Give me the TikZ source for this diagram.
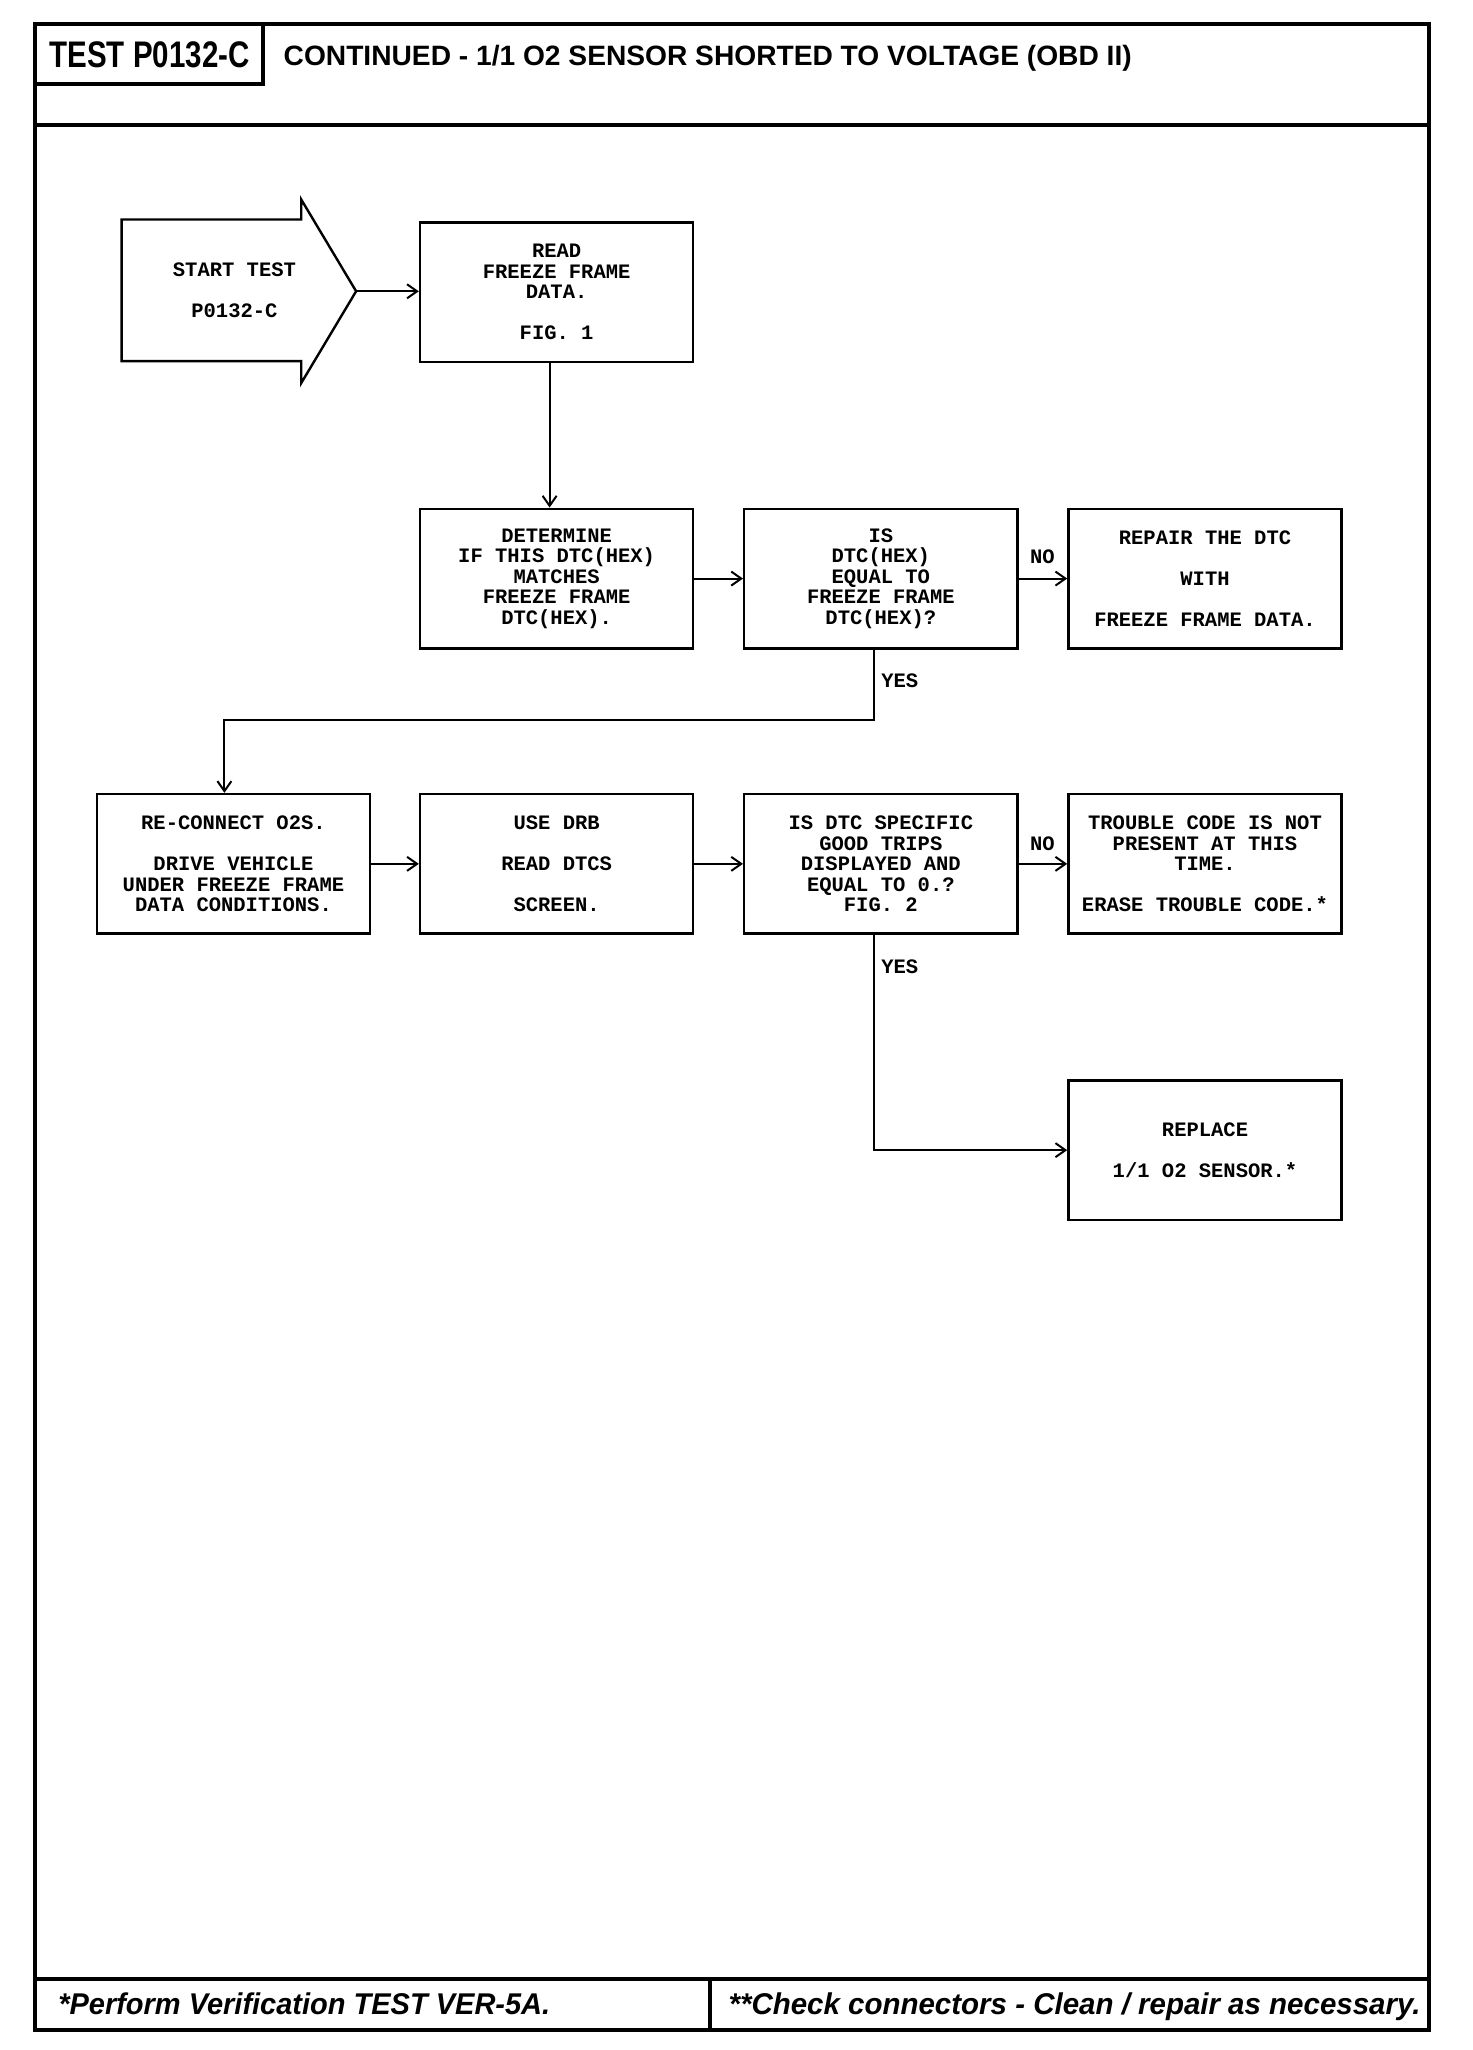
\documentclass[tikz,border=0pt]{standalone}
\usepackage{fontspec}
\setmainfont{Liberation Sans}
\newfontfamily\monof{Liberation Mono}
\usetikzlibrary{arrows.meta,calc}
\begin{document}
\begin{tikzpicture}[x=0.49875pt,y=-0.49875pt,
  frame/.style={draw,line width=2pt},
  stepbox/.style={draw,line width=1.2pt,minimum width=136.6pt,minimum height=69.8pt,inner sep=0pt,
     align=center,font=\monof\bfseries\fontsize{10.25}{10.25}\selectfont},
  lbl/.style={inner sep=0pt,font=\monof\bfseries\fontsize{10.25}{10.25}\selectfont},
  arr/.style={line width=1pt,-{Straight Barb[length=5pt,width=7pt,line width=1pt]}},
  conn/.style={line width=1pt}]
\useasboundingbox (0,0) rectangle (1475.7,2055.1);
% outer frame
\draw[frame] (35,24) rectangle (1433,2035);
\draw[frame] (35,125) -- (1433,125);
\draw[frame] (35,24) rectangle (264,84);
\draw[frame] (35,1984) -- (1433,1984);
\draw[frame] (712,1984) -- (712,2035);
% header texts
\node[inner sep=0pt] (ttlA) at (150,55) {\resizebox{100pt}{\height}{\fontsize{18.5}{18.5}\selectfont\bfseries TEST P0132-C}};
\node[inner sep=0pt,anchor=west] (ttlB) at (284,58) {\resizebox{424pt}{\height}{\fontsize{14}{14}\selectfont\bfseries CONTINUED - 1/1 O2 SENSOR SHORTED TO VOLTAGE (OBD II)}};
% footer texts
\node[inner sep=0pt,anchor=base west] (ftA) at (58,2019) {\resizebox{246pt}{\height}{\fontsize{15}{15}\selectfont\bfseries\itshape *Perform Verification TEST VER-5A.}};
\node[inner sep=0pt,anchor=base west] (ftB) at (730,2019) {\resizebox{346pt}{\height}{\fontsize{15}{15}\selectfont\bfseries\itshape **Check connectors - Clean / repair as necessary.}};
% start arrow shape
\draw[line width=1.2pt] (122,220) -- (302,220) -- (302,200) -- (357,292) -- (302,384) -- (302,362) -- (122,362) -- cycle;
\node[lbl,align=center] (start) at (235,291) {START TEST\\[10.25pt]P0132-C};
\coordinate (tip) at (357,292);
% boxes
\node[stepbox] (read) at (558,293) {READ\\FREEZE FRAME\\DATA.\\[10.25pt]FIG. 1};
\node[stepbox] (det) at (558,580) {DETERMINE\\IF THIS DTC(HEX)\\MATCHES\\FREEZE FRAME\\DTC(HEX).};
\node[stepbox] (ishex) at (883,580) {IS\\DTC(HEX)\\EQUAL TO\\FREEZE FRAME\\DTC(HEX)?};
\node[stepbox] (repair) at (1208,580) {REPAIR THE DTC\\[10.25pt]WITH\\[10.25pt]FREEZE FRAME DATA.};
\node[stepbox] (recon) at (234,866) {RE-CONNECT O2S.\\[10.25pt]DRIVE VEHICLE\\UNDER FREEZE FRAME\\DATA CONDITIONS.};
\node[stepbox] (usedrb) at (558,866) {USE DRB\\[10.25pt]READ DTCS\\[10.25pt]SCREEN.};
\node[stepbox] (isspec) at (883,866) {IS DTC SPECIFIC\\GOOD TRIPS\\DISPLAYED AND\\EQUAL TO 0.?\\FIG. 2};
\node[stepbox] (trouble) at (1208,866) {TROUBLE CODE IS NOT\\PRESENT AT THIS\\TIME.\\[10.25pt]ERASE TROUBLE CODE.*};
\node[stepbox] (replace) at (1208,1153) {REPLACE\\[10.25pt]1/1 O2 SENSOR.*};
% connectors
\draw[arr] (tip) -- (tip -| read.west);
\draw[arr] ([xshift=-3.5pt]read.south) -- ([xshift=-3.5pt]det.north);
\draw[arr] (det.east) -- (ishex.west);
\draw[arr] (ishex.east) -- (repair.west);
\draw[arr] ([xshift=-3.5pt]ishex.south) -- ++(0,71) -| ([xshift=-4.5pt]recon.north);
\draw[arr] (recon.east) -- (usedrb.west);
\draw[arr] (usedrb.east) -- (isspec.west);
\draw[arr] (isspec.east) -- (trouble.west);
\draw[arr] ([xshift=-3.5pt]isspec.south) |- (replace.west);
% labels
\node[lbl] (no1) at (1045,558) {NO};
\node[lbl] (yes1) at (902,682) {YES};
\node[lbl] (no2) at (1045,846) {NO};
\node[lbl] (yes2) at (902,969) {YES};
\end{tikzpicture}
\end{document}
